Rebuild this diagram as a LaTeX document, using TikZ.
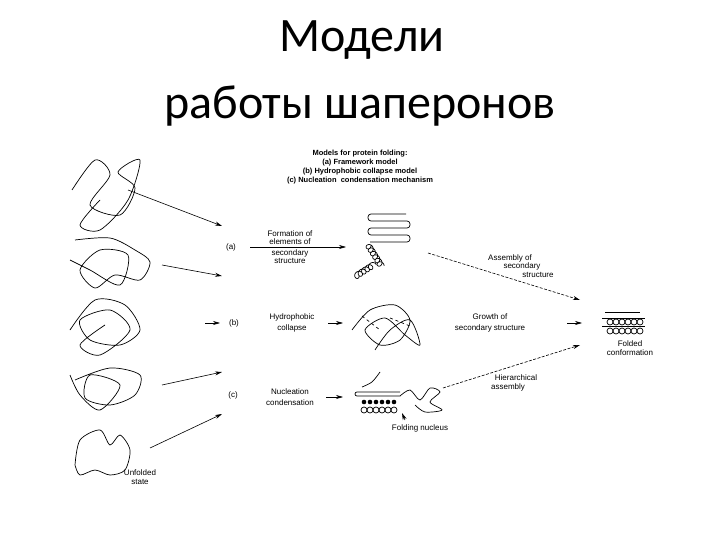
\documentclass[tikz,border=0pt]{standalone}
\usepackage{fontspec}
\setmainfont{Carlito}
\newfontfamily\lab{Liberation Sans}
\usetikzlibrary{arrows.meta}
\begin{document}
\begin{tikzpicture}[x=1pt,y=-1pt,
 lbl/.style={font=\lab\fontsize{8}{8.5}\selectfont,align=center,inner sep=0},
 arr/.style={-{Stealth[length=7pt,width=4pt]},line width=0.6pt},
 darr/.style={arr,dashed,dash pattern=on 3pt off 1.5pt},
 sq/.style={line width=0.7pt,line join=round}]
\useasboundingbox (0,0) rectangle (720,540);
\node[font=\fontsize{48}{50}\selectfont] (t1) at (362,40) {Модели};
\node[font=\fontsize{48}{50}\selectfont] (t2) at (360,106) {работы шаперонов};
\node[lbl,font=\lab\bfseries\fontsize{7.5}{9}\selectfont] (hd) at (360,167) {Models for protein folding:\\(a) Framework model\\(b) Hydrophobic collapse model\\(c) Nucleation\ \ condensation mechanism};
% unfolded chains
\draw[sq] plot[smooth] coordinates {(72,190)(95,160)(110,175)(90,205)(120,215)(135,188)(118,172)(140,160)(128,200)(100,230)(80,225)(100,200)};
\draw[sq] plot[smooth] coordinates {(75,240)(110,238)(135,250)(150,262)(140,280)(115,275)(95,288)(80,270)(100,250)(128,255)(120,285)(90,270)(70,260)};
\draw[sq] plot[smooth] coordinates {(70,330)(95,300)(125,305)(140,330)(120,345)(90,340)(80,320)(110,310)(130,330)(100,355)(80,345)(105,325)};
\draw[sq] plot[smooth] coordinates {(75,380)(110,368)(140,375)(135,395)(110,405)(85,398)(90,375)(120,385)(100,410)(80,395)(70,375)};
\draw[sq] plot[smooth] coordinates {(75,465)(80,440)(100,430)(110,445)(120,435)(130,450)(125,470)(110,475)(95,470)(80,475)(75,465)};
\node[lbl] (uf) at (140,477) {Unfolded\\state};
% left arrows
\coordinate (s1) at (128,190); \coordinate (e1) at (222,226);
\coordinate (s2) at (162,265); \coordinate (e2) at (222,276);
\coordinate (s3) at (205,323); \coordinate (e3) at (220,323);
\coordinate (s4) at (162,385); \coordinate (e4) at (222,372);
\coordinate (s5) at (150,448); \coordinate (e5) at (222,414);
\foreach \i in {1,...,5} \draw[arr] (s\i) -- (e\i);
% row a
\node[lbl] (la) at (231,247) {(a)};
\node[lbl] (ta) at (290,247) {Formation of\\elements of\\[2pt]secondary\\structure};
\coordinate (a1) at (250,247); \coordinate (a2) at (346,247);
\draw[arr] (a1) -- (a2);
\draw[sq,rounded corners=3pt] (406,214)--(368,214)--(368,221)--(410,221)--(410,228)--(368,228)--(368,235)--(410,235)--(410,242)--(370,242);
\draw[sq] plot[domain=0:12*pi,samples=150] ({368+(\x)*0.35+3*cos(\x r)},{245+(\x)*0.55+3*sin(\x r)});
\draw[sq] plot[domain=0:10*pi,samples=120] ({356+(\x)*0.55+3*cos(\x r)},{276-(\x)*0.35+3*sin(\x r)});
\node[lbl] (tsa) at (510,266) {Assembly of\\\hspace*{3em}secondary\\\hspace*{7em}structure};
\coordinate (d1) at (428,253); \coordinate (d2) at (580,300);
\draw[darr] (d1) -- (d2);
% row b
\node[lbl] (lb) at (234,323) {(b)};
\node[lbl] (tb) at (292,323) {Hydrophobic\\[3pt]collapse};
\coordinate (b1) at (328,323); \coordinate (b2) at (343,323);
\draw[arr] (b1) -- (b2);
\draw[sq] plot[smooth] coordinates {(352,330)(370,310)(395,305)(410,320)(400,340)(380,345)(365,330)(385,318)(405,335)(420,345)(410,320)(390,330)(375,350)};
\draw[sq,dashed] (362,316)--(380,330) (390,318)--(410,326);
\node[lbl] (tg) at (490,323) {Growth of\\[3pt]secondary structure};
\coordinate (g1) at (567,323); \coordinate (g2) at (582,323);
\draw[arr] (g1) -- (g2);
% folded
\draw[sq] (605,312)--(640,312) (602,318)--(645,318) (602,326)--(645,326);
\foreach \k in {0,...,5} {\draw[sq] (610+\k*6,322) circle(3); \draw[sq] (610+\k*6,331) circle(3);}
\node[lbl] (tf) at (630,348) {Folded\\conformation};
% row c
\node[lbl] (lc) at (233,395) {(c)};
\node[lbl] (tc) at (290,397) {Nucleation\\[3pt]condensation};
\coordinate (c1) at (326,397); \coordinate (c2) at (343,397);
\draw[arr] (c1) -- (c2);
\draw[sq,rounded corners=2pt] (400,392)--(355,392)--(355,396)--(400,396);
\draw[sq] plot[smooth] coordinates {(362,387)(372,382)(380,372)};
\foreach \k in {0,...,5} {\draw[sq] (364+\k*6,410) circle(3); \fill (364+\k*6,402) circle(2.3);}
\draw[sq] plot[smooth] coordinates {(400,396)(410,390)(420,400)(430,388)(440,392)(430,402)(442,410)(425,412)(415,405)};
\node[lbl] (fn) at (420,428) {Folding nucleus};
\draw[arr] (fn.north) ++(-15,-4) coordinate (n1) -- (402,413);
\node[lbl] (th) at (508,383) {\hspace*{2em}Hierarchical\\assembly};
\coordinate (h1) at (443,388); \coordinate (h2) at (580,345);
\draw[darr] (h1) -- (h2);
\end{tikzpicture}
\end{document}
